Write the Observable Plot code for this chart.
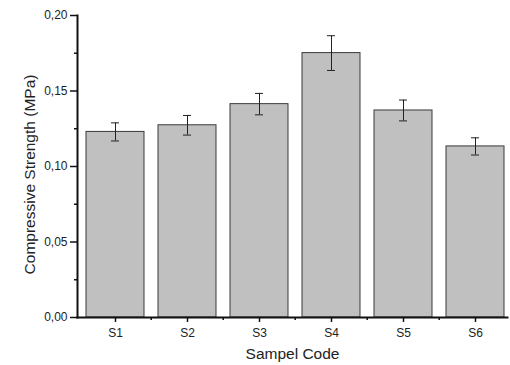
<!DOCTYPE html>
<html>
<head>
<meta charset="utf-8">
<script src="https://cdn.jsdelivr.net/npm/d3@7"></script>
<script src="https://cdn.jsdelivr.net/npm/@observablehq/plot@0.6"></script>
<style>
  html, body { margin: 0; padding: 0; background: #fff; }
  #chart svg { display: block; }
</style>
</head>
<body>
<div id="chart"></div>
<script>
const categories = ["S1", "S2", "S3", "S4", "S5", "S6"];
const strength = [0.1229, 0.1273, 0.1413, 0.1751, 0.1371, 0.1133];
const errors = [0.0060, 0.0065, 0.0071, 0.0115, 0.0069, 0.0057];
const yMajorTicks = [0, 0.05, 0.10, 0.15, 0.20];
const yMinorTicks = [0.025, 0.075, 0.125, 0.175];
const xMinorTicks = ["S2", "S3", "S4", "S5", "S6"];

const data = categories.map((c, i) => ({code: c, value: strength[i], err: errors[i]}));
const fmt = v => d3.format(".2f")(v).replace(".", ",");
const font = "Liberation Sans, Arial, sans-serif";

const chart = Plot.plot({
  width: 510,
  height: 365,
  marginLeft: 77,
  marginRight: 3,
  marginTop: 15,
  marginBottom: 48,
  style: {fontFamily: font, fontSize: "12px", color: "#222", background: "#fff"},
  x: {domain: categories, range: [77.5, 513], paddingInner: 0.2, paddingOuter: 0.1},
  y: {domain: [0, 0.2]},
  marks: [
    Plot.barY(data, {x: "code", y: "value", fill: "#c0c0c0", stroke: "#3a3a3a", strokeWidth: 1}),
    Plot.ruleX(data, {x: "code", y1: d => d.value - d.err, y2: d => d.value + d.err, stroke: "#222", strokeWidth: 1}),
    Plot.tickY(data, {x: "code", y: d => d.value - d.err, stroke: "#222", strokeWidth: 1, insetLeft: 25, insetRight: 25}),
    Plot.tickY(data, {x: "code", y: d => d.value + d.err, stroke: "#222", strokeWidth: 1, insetLeft: 25, insetRight: 25}),
    Plot.axisY({ticks: yMajorTicks, tickFormat: fmt, tickSize: 7, tickPadding: 3, label: null, stroke: "#111", strokeWidth: 1.5, fontSize: 12}),
    Plot.axisY({ticks: yMinorTicks, tickSize: 3, text: null, label: null, stroke: "#111", strokeWidth: 1.5}),
    Plot.axisX({ticks: categories, tickSize: 5, tickPadding: 6, label: null, stroke: "#111", strokeWidth: 1.5, fontSize: 12}),
    Plot.axisX({ticks: xMinorTicks, tickSize: 3, text: null, label: null, dx: -36.3, stroke: "#111", strokeWidth: 1.5}),
    Plot.frame({anchor: "left", stroke: "#111", strokeWidth: 2}),
    Plot.frame({anchor: "bottom", stroke: "#111", strokeWidth: 2}),
    Plot.text(["Compressive Strength (MPa)"], {frameAnchor: "left", textAnchor: "middle", rotate: -90, dx: -47, dy: 8, fontSize: 15.5, fill: "#222"}),
    Plot.text(["Sampel Code"], {frameAnchor: "bottom", dy: 41, fontSize: 15.5, fill: "#222"})
  ]
});
document.getElementById("chart").append(chart);
</script>
</body>
</html>
